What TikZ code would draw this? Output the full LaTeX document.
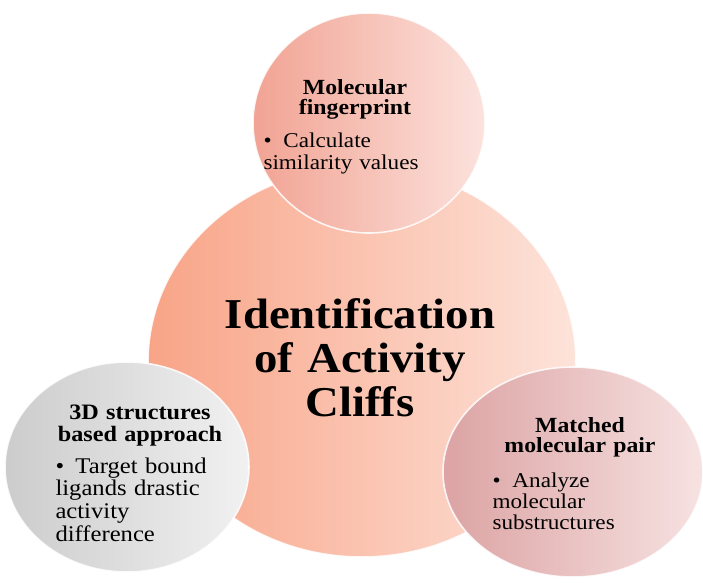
\documentclass[tikz,border=0pt]{standalone}
\usepackage{fontspec}
\setmainfont{Liberation Serif}[FakeStretch=1.1]

\tikzset{every picture/.style={line width=0.75pt}}
\tikzset{
	bubble rim/.style={draw={rgb, 255:red, 255; green, 255; blue, 255 }, draw opacity=0.85, line width=1.2pt},
	head text/.style={inner sep=0pt, anchor=base, text width=170pt, align=center, font=\bfseries\fontsize{16.2}{15.5}\selectfont},
	item text/.style={inner sep=0pt, anchor=base west, text width=150pt, align=left, font=\fontsize{16}{17}\selectfont},
}
% bullet with hanging indent for the item lines
\newcommand{\bulletline}{\hangindent=15pt\hangafter=1\makebox[15pt][l]{\textbullet}}

\begin{document}
\begin{tikzpicture}[x=0.75pt,y=0.75pt,yscale=-1,xscale=1]
	\useasboundingbox (0,0) rectangle (703,582);

	%Shape: Ellipse [big one in the middle]
	\draw [bubble rim, left color={rgb, 255:red, 248; green, 164; blue, 135 }, right color={rgb, 255:red, 253; green, 227; blue, 218 }] (362,362) ellipse [x radius=214, y radius=195];
	%Shape: Ellipse [top]
	\draw [bubble rim, left color={rgb, 255:red, 241; green, 163; blue, 147 }, right color={rgb, 255:red, 252; green, 226; blue, 221 }] (369,123) ellipse [x radius=116, y radius=110];
	%Shape: Ellipse [bottom left]
	\draw [bubble rim, left color={rgb, 255:red, 204; green, 204; blue, 204 }, right color={rgb, 255:red, 241; green, 241; blue, 241 }] (127,467) ellipse [x radius=122, y radius=105];
	%Shape: Ellipse [bottom right]
	\draw [bubble rim, left color={rgb, 255:red, 220; green, 163; blue, 163 }, right color={rgb, 255:red, 247; green, 226; blue, 226 }] (573,472) ellipse [x radius=130, y radius=105];

	% Text Node
	\node [inner sep=0pt, anchor=base, text width=300pt, align=center, font=\bfseries\fontsize{31.9}{33}\selectfont] (title) at (360,328) {Identification\\ of Activity\\ Cliffs};

	% Text Node
	\node [head text, font=\bfseries\fontsize{16.2}{15.2}\selectfont] (fp head) at (355,94) {Molecular\\ fingerprint};
	% Text Node
	\node [item text, font=\fontsize{15.8}{17.2}\selectfont] (fp item) at (263,147) {\bulletline Calculate\\ similarity values};

	% Text Node
	\node [head text, font=\bfseries\fontsize{16.5}{16.5}\selectfont] (sb head) at (140,419) {3D structures\\ based approach};
	% Text Node
	\node [item text, font=\fontsize{16.8}{17.2}\selectfont] (sb item) at (55,473) {\bulletline Target bound\\ ligands drastic\\ activity\\ difference};

	% Text Node
	\node [head text, font=\bfseries\fontsize{16.2}{15.2}\selectfont] (mmp head) at (580,432) {Matched\\ molecular pair};
	% Text Node
	\node [item text, font=\fontsize{15.8}{15.8}\selectfont] (mmp item) at (492,487) {\bulletline Analyze\\ molecular\\ substructures};

\end{tikzpicture}
\end{document}
